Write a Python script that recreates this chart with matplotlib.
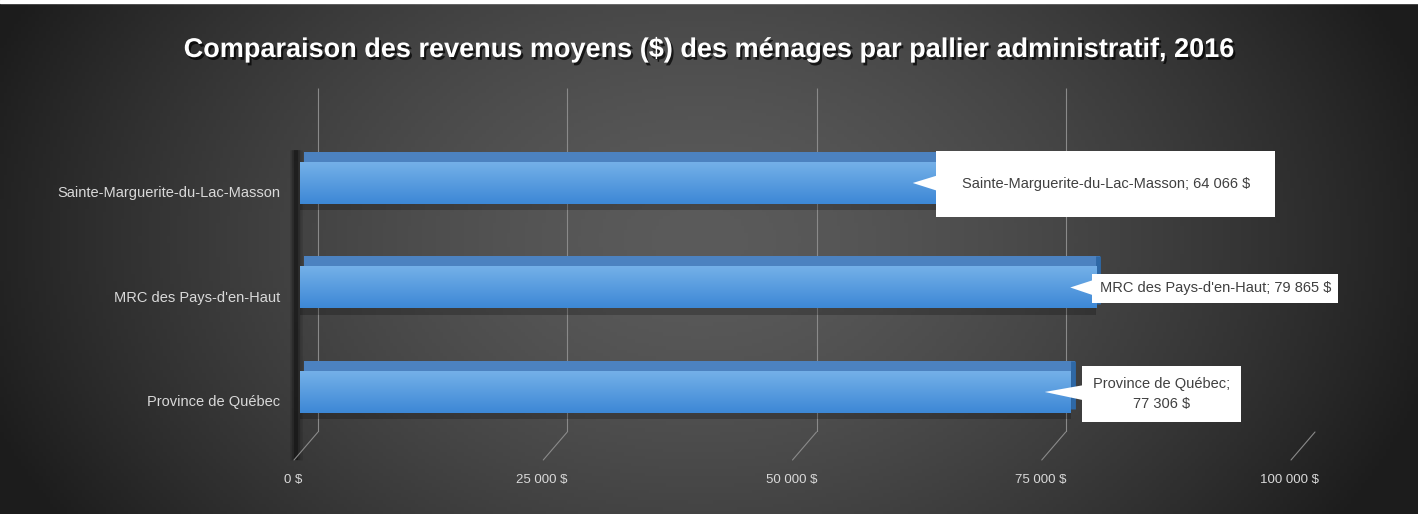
import numpy as np
import matplotlib
matplotlib.use("Agg")
from matplotlib import pyplot as plt
from matplotlib import transforms as mtransforms
from matplotlib.patches import ConnectionPatch
import matplotlib.patheffects as pe

# data
categories = ["Province de Québec", "MRC des Pays-d'en-Haut", "Sainte-Marguerite-du-Lac-Masson"]
revenus = [77306, 79865, 64066]
ticks = [0, 25000, 50000, 75000, 100000]
title = "Comparaison des revenus moyens ($) des ménages par pallier administratif, 2016"

plt.rcParams['font.family'] = ['Liberation Sans', 'DejaVu Sans']

W, H = 1418, 514
fig = plt.figure(figsize=(W / 100, H / 100), dpi=100)

def fmt(v):
    return "{:,}".format(v).replace(",", " ") + " $"

# background gradient
bg = fig.add_axes([0, 0, 1, 1], zorder=-10)
xx, yy = np.meshgrid(np.linspace(0, W, 400), np.linspace(0, H, 150))
r = np.sqrt(((xx - 700) / 800) ** 2 + ((yy - 240) / 560) ** 2)
r = np.clip(r / 0.95, 0, 1) ** 1.5
c0 = np.array([0x5b, 0x5b, 0x5b]) / 255
c1 = np.array([0x1c, 0x1c, 0x1c]) / 255
img = c0[None, None, :] * (1 - r[..., None]) + c1[None, None, :] * r[..., None]
bg.imshow(img, extent=[0, W, H, 0], aspect='auto')
bg.axhspan(0, 3, color='white')
bg.set_xlim(0, W)
bg.set_ylim(H, 0)
bg.axis('off')

# main axes: value 0 at front-left of bars
left_px, right_px = 300, 1297
top_px, bot_px = 88, 432
ax = fig.add_axes([left_px / W, 1 - bot_px / H, (right_px - left_px) / W, (bot_px - top_px) / H])
ax.set_facecolor('none')
for s in ax.spines.values():
    s.set_visible(False)

grid_col = '#8a8a8a'
back = mtransforms.offset_copy(ax.transData, fig=fig, x=18, y=0, units='dots')
ax.vlines(ticks, -0.383, 2.909, colors=grid_col, lw=0.8, transform=back, zorder=1)
blend = mtransforms.blended_transform_factory(ax.transData, ax.transAxes)
for t in ticks:
    cp = ConnectionPatch(xyA=(t, 0), coordsA=mtransforms.offset_copy(blend, fig=fig, x=18, y=0, units='dots'),
                         xyB=(t, 0), coordsB=mtransforms.offset_copy(blend, fig=fig, x=-6, y=-28, units='dots'),
                         color=grid_col, lw=0.8)
    fig.add_artist(cp)

# left wall shadow (soft)
wall = mtransforms.offset_copy(blend, fig=fig, x=-4, y=0, units='dots')
for lw, a in [(9, 0.12), (6, 0.2), (3, 0.3)]:
    ax.plot([0, 0], [-0.08, 0.82], color='black', alpha=a, lw=lw, clip_on=False,
            transform=wall, zorder=1, solid_capstyle='butt')

bh = 0.40
ypos = np.arange(len(categories))
grad = np.linspace(0, 1, 50)[:, None]
top_c = np.array([0x74, 0xb0, 0xe8]) / 255
bot_c = np.array([0x3d, 0x88, 0xd6]) / 255
gimg = top_c[None, None, :] * (1 - grad[..., None]) + bot_c[None, None, :] * grad[..., None]
gimg = np.repeat(gimg, 2, axis=1)

shift_top = mtransforms.offset_copy(ax.transData, fig=fig, x=4, y=0, units='dots')
shift_end = mtransforms.offset_copy(ax.transData, fig=fig, x=2, y=4, units='dots')
for k, v in zip(ypos, revenus):
    # shadow under the bar
    ax.barh(k - bh / 2 - 0.03, v, height=0.06, left=0, color='black', alpha=0.22, zorder=2)
    # top face
    ax.barh(k + bh / 2 + 0.05, v, height=0.1, color='#4c82c0', zorder=3, transform=shift_top)
    # side face
    ax.vlines(v, k - bh / 2, k + bh / 2 + 0.06, colors='#2e68a6', lw=3.5, transform=shift_end, zorder=3)
    # front face with gradient
    ax.imshow(gimg, extent=[0, v, k - bh / 2, k + bh / 2], aspect='auto', zorder=4, interpolation='bilinear')

ax.set_xlim(0, 100000)
ax.set_ylim(-0.383, 2.909)

# ticks
ax.set_xticks(ticks)
ax.set_xticklabels([fmt(t) for t in ticks])
ax.tick_params(axis='x', length=0, pad=30, labelcolor='#d9d9d9', labelsize=9.5)
for lab in ax.get_xticklabels():
    lab.set_transform(lab.get_transform() + mtransforms.ScaledTranslation(-7 / 100, 0, fig.dpi_scale_trans))
ax.set_yticks(ypos)
ax.set_yticklabels(categories)
ax.tick_params(axis='y', length=0, pad=14, labelcolor='#d9d9d9', labelsize=10.5)
for lab in ax.get_yticklabels():
    lab.set_transform(lab.get_transform() + mtransforms.ScaledTranslation(0, -9 / 100, fig.dpi_scale_trans))

# callouts
labels = ["Province de Québec;\n77 306 $",
          "MRC des Pays-d'en-Haut; 79 865 $",
          "Sainte-Marguerite-du-Lac-Masson; 64 066 $"]
offsets = [(117, -2), (145, -1), (193, -1)]
pads = [0.75, 0.5, 1.75]
tip = mtransforms.offset_copy(ax.transData, fig=fig, x=-26, y=0, units='dots')
for k, v, txt, off, p in zip(ypos, revenus, labels, offsets, pads):
    ax.annotate(txt, xy=(v, k), xycoords=tip, xytext=off, textcoords='offset pixels',
                ha='center', va='center', fontsize=10.5, color='#404040', linespacing=1.6,
                bbox=dict(boxstyle='square,pad=%.2f' % p, fc='white', ec='none'),
                arrowprops=dict(arrowstyle='wedge,tail_width=1.0,shrink_factor=0.5',
                                fc='white', ec='none', shrinkA=0, shrinkB=0),
                zorder=6, annotation_clip=False)

fig.text(0.5, 1 - 50 / H, title, ha='center', va='center', color='white', fontsize=19.5,
         fontweight='bold',
         path_effects=[pe.withSimplePatchShadow(offset=(1.5, -2), shadow_rgbFace='black', alpha=0.7)])

fig.savefig("out.png", dpi=100)
